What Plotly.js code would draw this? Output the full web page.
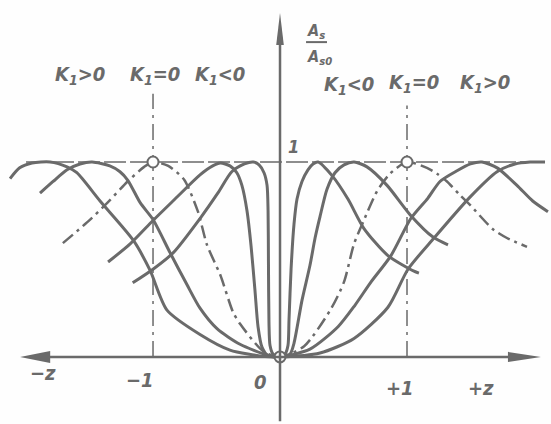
<!DOCTYPE html>
<html>
<head>
<meta charset="utf-8">
<script src="https://cdn.plot.ly/plotly-3.0.1.min.js"></script>
<style>
  html, body { margin: 0; padding: 0; background: #fefefe; }
  #chart { width: 551px; height: 424px; }
</style>
</head>
<body>
<div id="chart"></div>
<script>
// Amplitude ratio A_s / A_s0 against z for several values of K1.
// Each family member rises from zero at z = 0 to its maximum of 1.

// K1 < 0, narrowest member
const kNeg1Z = [-1.16, -1.0, -0.84, -0.63, -0.49, -0.38, -0.28, -0.21, -0.165, -0.126, -0.102, -0.094, -0.091, -0.087, -0.079, -0.055, 0,
                0.04, 0.063, 0.071, 0.087, 0.11, 0.134, 0.173, 0.22, 0.26, 0.30, 0.41, 0.535, 0.66, 0.85, 1.055, 1.094];
const kNeg1A = [0.38, 0.45, 0.535, 0.71, 0.84, 0.95, 0.99, 1.0, 0.985, 0.945, 0.88, 0.75, 0.49, 0.18, 0.06, 0.015, 0,
                0.015, 0.06, 0.19, 0.45, 0.68, 0.81, 0.90, 0.96, 0.99, 1.0, 0.93, 0.81, 0.66, 0.52, 0.44, 0.43];

// K1 < 0, second member
const kNeg2Z = [-1.354, -1.18, -1.0, -0.827, -0.63, -0.53, -0.47, -0.394, -0.34, -0.30, -0.26, -0.228, -0.197, -0.173, -0.142, -0.094, 0,
                0.079, 0.11, 0.173, 0.236, 0.276, 0.315, 0.37, 0.433, 0.504, 0.583, 0.685, 0.843, 1.024, 1.205, 1.323];
const kNeg2A = [0.487, 0.58, 0.70, 0.81, 0.934, 0.98, 0.995, 0.98, 0.945, 0.88, 0.75, 0.57, 0.34, 0.155, 0.05, 0.006, 0,
                0.015, 0.07, 0.29, 0.47, 0.61, 0.72, 0.86, 0.945, 0.985, 1.0, 0.975, 0.88, 0.73, 0.615, 0.575];

// K1 = 0 (maximum exactly at z = ±1)
const kZeroZ = [-1.71, -1.52, -1.36, -1.2, -1.07, -1.0, -0.88, -0.756, -0.646, -0.575, -0.47, -0.37, -0.315, -0.134, 0,
                0.19, 0.40, 0.504, 0.583, 0.66, 0.764, 0.866, 1.0, 1.157, 1.236, 1.315, 1.417, 1.496, 1.677, 1.787, 1.945];
const kZeroA = [0.584, 0.69, 0.79, 0.90, 0.975, 1.0, 0.98, 0.91, 0.745, 0.575, 0.42, 0.23, 0.17, 0.03, 0,
                0.055, 0.245, 0.385, 0.58, 0.70, 0.85, 0.94, 1.0, 0.97, 0.94, 0.90, 0.83, 0.78, 0.655, 0.61, 0.565];

// K1 > 0, first member
const kPos1Z = [-1.89, -1.787, -1.677, -1.575, -1.48, -1.34, -1.26, -1.197, -1.10, -1.0, -0.866, -0.732, -0.63, -0.496, -0.315, -0.10, 0,
                0.236, 0.457, 0.59, 0.717, 0.874, 1.03, 1.165, 1.26, 1.394, 1.50, 1.59, 1.71, 1.866, 1.99, 2.11];
const kPos1A = [0.84, 0.90, 0.96, 0.99, 1.0, 0.98, 0.95, 0.905, 0.79, 0.705, 0.535, 0.37, 0.25, 0.145, 0.065, 0.01, 0,
                0.04, 0.155, 0.265, 0.385, 0.52, 0.71, 0.815, 0.90, 0.955, 0.99, 1.0, 0.97, 0.88, 0.80, 0.745];

// K1 > 0, widest member
const kPos2Z = [-2.126, -2.05, -1.953, -1.81, -1.677, -1.6, -1.417, -1.157, -1.024, -0.89, -0.63, -0.394, -0.118, 0,
                0.315, 0.583, 0.85, 1.008, 1.213, 1.496, 1.709, 1.85, 1.97, 2.087];
const kPos2A = [0.915, 0.97, 0.995, 1.0, 0.975, 0.945, 0.80, 0.60, 0.445, 0.24, 0.115, 0.035, 0.002, 0,
                0.02, 0.095, 0.255, 0.45, 0.61, 0.82, 0.95, 0.99, 1.0, 1.0];

// Marked points: the K1 = 0 maxima and the origin
const markZ = [-1, 0, 1];
const markA = [1, 0, 1];

// Family labels, left to right
const familyLabels = ['K<sub>1</sub>&gt;0', 'K<sub>1</sub>=0', 'K<sub>1</sub>&lt;0',
                      'K<sub>1</sub>&lt;0', 'K<sub>1</sub>=0', 'K<sub>1</sub>&gt;0'];
// Axis labels
const axisLabels = ['\u2212z', '\u22121', '0', '+1', '+z'];
const unitLabel = '1';
const ratioTop = 'A<sub>s</sub>';
const ratioBottom = 'A<sub>s0</sub>';

const INK = '#6a6a6a';
const FONT = { family: 'DejaVu Sans Condensed, DejaVu Sans, sans-serif', color: INK, weight: 'bold', style: 'italic' };

function curve(z, a, dash, width) {
  return {
    x: z, y: a, type: 'scatter', mode: 'lines', hoverinfo: 'skip',
    line: { color: INK, width: width, shape: 'spline', smoothing: 0.7, dash: dash }
  };
}

const traces = [
  curve(kNeg1Z, kNeg1A, 'solid', 3),
  curve(kNeg2Z, kNeg2A, 'solid', 3),
  curve(kPos1Z, kPos1A, 'solid', 3),
  curve(kPos2Z, kPos2A, 'solid', 3),
  curve(kZeroZ, kZeroA, '13px,5px,3px,5px', 2.5),
  {
    x: markZ, y: markA, type: 'scatter', mode: 'markers', hoverinfo: 'skip',
    marker: { symbol: 'circle', size: 11, color: '#fefefe', line: { color: INK, width: 2 } }
  }
];

function label(text, x, y, size) {
  return { text: text, x: x, y: y, xref: 'x', yref: 'y', showarrow: false,
           font: Object.assign({}, FONT, { size: size }) };
}

const annotations = [
  label(familyLabels[0], -1.575, 1.446, 20),
  label(familyLabels[1], -0.984, 1.446, 20),
  label(familyLabels[2], -0.472, 1.446, 20),
  label(familyLabels[3], 0.545, 1.395, 20),
  label(familyLabels[4], 1.055, 1.405, 20),
  label(familyLabels[5], 1.614, 1.405, 20),
  label(axisLabels[0], -1.866, -0.082, 20),
  label(axisLabels[1], -1.10, -0.118, 20),
  label(axisLabels[2], -0.157, -0.128, 20),
  label(axisLabels[3], 0.945, -0.159, 20),
  label(axisLabels[4], 1.583, -0.159, 20),
  label(unitLabel, 0.11, 1.077, 18),
  label(ratioTop, 0.283, 1.67, 16),
  label(ratioBottom, 0.31, 1.535, 16)
];

const shapes = [
  // horizontal axis with arrowheads at both ends
  { type: 'line', xref: 'x', yref: 'y', x0: -1.95, x1: 1.9, y0: 0, y1: 0, line: { color: INK, width: 2.5 } },
  { type: 'path', xref: 'x', yref: 'y', path: 'M 2.055,0 L 1.795,0.026 L 1.795,-0.026 Z', fillcolor: INK, line: { width: 0 } },
  { type: 'path', xref: 'x', yref: 'y', path: 'M -2.047,0 L -1.81,0.031 L -1.81,-0.031 Z', fillcolor: INK, line: { width: 0 } },
  // vertical axis with arrowhead at the top
  { type: 'line', xref: 'x', yref: 'y', x0: 0, x1: 0, y0: -0.33, y1: 1.65, line: { color: INK, width: 2.5 } },
  { type: 'path', xref: 'x', yref: 'y', path: 'M 0,1.764 L -0.03,1.6 L 0.03,1.6 Z', fillcolor: INK, line: { width: 0 } },
  // level of the maxima
  { type: 'line', layer: 'below', xref: 'x', yref: 'y', x0: -2.0, x1: 2.08, y0: 1, y1: 1, line: { color: INK, width: 1.5, dash: '22px,4px' } },
  // guides through z = -1 and z = +1
  { type: 'line', layer: 'below', xref: 'x', yref: 'y', x0: -1, x1: -1, y0: 0, y1: 1.35, line: { color: INK, width: 1.5, dash: '16px,6px,3px,6px' } },
  { type: 'line', layer: 'below', xref: 'x', yref: 'y', x0: 1, x1: 1, y0: 0, y1: 1.29, line: { color: INK, width: 1.5, dash: '16px,6px,3px,6px' } },
  // fraction bar of the ordinate label
  { type: 'line', xref: 'x', yref: 'y', x0: 0.205, x1: 0.37, y0: 1.615, y1: 1.615, line: { color: INK, width: 2 } }
];

const layout = {
  width: 551, height: 424,
  margin: { l: 0, r: 0, t: 0, b: 0 },
  paper_bgcolor: '#fefefe', plot_bgcolor: '#fefefe',
  showlegend: false,
  xaxis: { range: [-2.205, 2.134], visible: false, fixedrange: true },
  yaxis: { range: [-0.344, 1.831], visible: false, fixedrange: true },
  shapes: shapes,
  annotations: annotations
};

Plotly.newPlot('chart', traces, layout, { staticPlot: true, displayModeBar: false });
</script>
</body>
</html>
